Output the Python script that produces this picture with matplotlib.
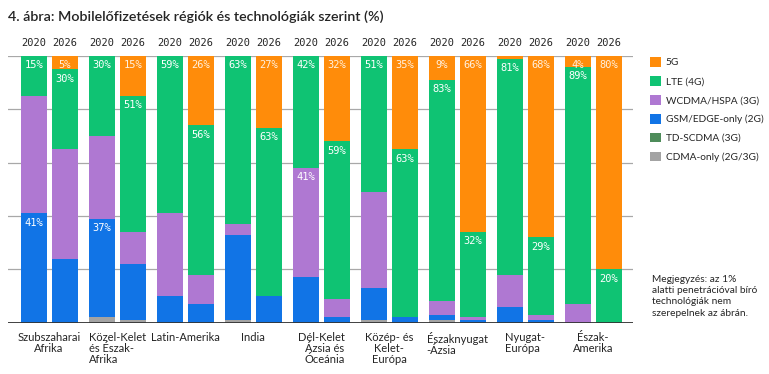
import numpy as np
import matplotlib
matplotlib.use("Agg")
import matplotlib.pyplot as plt
from matplotlib.patches import Patch

# ====== 資料 ======
REGIONS = ["Szubszaharai\nAfrika", "Közel-Kelet\nés Észak-\nAfrika", "Latin-Amerika", "India",
           "Dél-Kelet\nÁzsia és\nÓceánia", "Közép- és\nKelet-\nEurópa", "Északnyugat\n-Ázsia",
           "Nyugat-\nEurópa", "Észak-\nAmerika"]
REGION_ALIGN = ["center", "left", "center", "center", "right", "center", "left", "left", "center"]
YEARS = ["2020", "2026"]
TECHS = ["CDMA-only (2G/3G)", "TD-SCDMA (3G)", "GSM/EDGE-only (2G)", "WCDMA/HSPA (3G)", "LTE (4G)", "5G"]

# 每個區域 [2020, 2026]，依 TECHS 順序
cdma_2020  = [0, 2, 0, 1, 0, 1, 1, 0, 0]
td_2020    = [0, 0, 0, 0, 0, 0, 0, 0, 0]
gsm_2020   = [41, 37, 10, 32, 17, 12, 2, 6, 0]
wcdma_2020 = [44, 31, 31, 4, 41, 36, 5, 12, 7]
lte_2020   = [15, 30, 59, 63, 42, 51, 83, 81, 89]
g5_2020    = [0, 0, 0, 0, 0, 0, 9, 1, 4]

cdma_2026  = [0, 1, 0, 0, 0, 0, 0, 0, 0]
td_2026    = [0, 0, 0, 0, 0, 0, 0, 0, 0]
gsm_2026   = [24, 21, 7, 10, 2, 2, 1, 1, 0]
wcdma_2026 = [41, 12, 11, 0, 7, 0, 1, 2, 0]
lte_2026   = [30, 51, 56, 63, 59, 63, 32, 29, 20]
g5_2026    = [5, 15, 26, 27, 32, 35, 66, 68, 80]

# 顯示數值標籤的區段： (區域, 年份索引, 技術索引)
LABELED = [(0, 0, 4), (0, 0, 2), (0, 1, 5), (0, 1, 4),
           (1, 0, 4), (1, 0, 2), (1, 1, 5), (1, 1, 4),
           (2, 0, 4), (2, 1, 5), (2, 1, 4),
           (3, 0, 4), (3, 1, 5), (3, 1, 4),
           (4, 0, 4), (4, 0, 3), (4, 1, 5), (4, 1, 4),
           (5, 0, 4), (5, 1, 5), (5, 1, 4),
           (6, 0, 5), (6, 0, 4), (6, 1, 5), (6, 1, 4),
           (7, 0, 4), (7, 1, 5), (7, 1, 4),
           (8, 0, 5), (8, 0, 4), (8, 1, 5), (8, 1, 4)]

COLORS = ["#a3a3a3", "#4e8c5a", "#1174e6", "#af78d2", "#0fc373", "#ff8c0a"]
TEXT_COLOR = "#242424"

data = {
    0: [cdma_2020, td_2020, gsm_2020, wcdma_2020, lte_2020, g5_2020],
    1: [cdma_2026, td_2026, gsm_2026, wcdma_2026, lte_2026, g5_2026],
}

fig = plt.figure(figsize=(7.69, 3.74), dpi=100)
ax = fig.add_axes([8 / 769, 51.3 / 374, 625 / 769, 266.7 / 374])

x = np.arange(len(REGIONS))
offset = 0.228
width = 0.382

for yi in (0, 1):
    xpos = x + (offset if yi else -offset)
    bottom = np.zeros(len(REGIONS))
    for ti, vals in enumerate(data[yi]):
        vals = np.array(vals, dtype=float)
        ax.bar(xpos, vals, width, bottom=bottom, color=COLORS[ti], zorder=3, linewidth=0)
        bottom += vals
    for ri in range(len(REGIONS)):
        ax.text(xpos[ri], 1.03, YEARS[yi], transform=ax.get_xaxis_transform(),
                ha="center", va="bottom", fontsize=7.5, family="DejaVu Sans Mono", color=TEXT_COLOR)

# 數值標籤
for ri, yi, ti in LABELED:
    vals = data[yi]
    top = sum(vals[k][ri] for k in range(ti + 1))
    xpos = x[ri] + (offset if yi else -offset)
    tcol = "#fff1e0" if ti == 5 else "white"
    ax.annotate(f"{vals[ti][ri]}%", (xpos, top), xytext=(0, -6.8), textcoords="offset points",
                ha="center", va="center", fontsize=7.5, family="DejaVu Sans Mono", color=tcol, zorder=5)

ax.set_xlim((8 - 49.1) / 68, (633 - 49.1) / 68)
ax.set_ylim(0, 100)
ax.set_yticks([0, 20, 40, 60, 80, 100])
ax.yaxis.grid(True, color="#a8a8a8", linewidth=0.9, zorder=0)
ax.tick_params(left=False, bottom=False, labelleft=False, labelbottom=False)
for s in ax.spines.values():
    s.set_visible(False)
ax.axhline(0, color="#333333", linewidth=1.3, zorder=4)

# 區域名稱
for ri, name in enumerate(REGIONS):
    ax.text(x[ri], -0.035, name, transform=ax.get_xaxis_transform(), ha="center", va="top",
            multialignment=REGION_ALIGN[ri], fontsize=8, family="Lato", color=TEXT_COLOR,
            linespacing=1.0)

fig.text(8 / 769, 1 - 17 / 374, "4. ábra: Mobilelőfizetések régiók és technológiák szerint (%)",
         ha="left", va="center", fontsize=10.3, family="Lato", fontweight="semibold", color=TEXT_COLOR)

handles = [Patch(facecolor=COLORS[i], edgecolor="none") for i in range(5, -1, -1)]
labels = [TECHS[i] for i in range(5, -1, -1)]
leg = fig.legend(handles, labels, loc="upper left", bbox_to_anchor=(650 / 769, 1 - 57 / 374),
                 frameon=False, prop={"family": "Lato", "size": 7.3},
                 handlelength=1.1, handleheight=1.1, handletextpad=0.45, labelspacing=0.85,
                 borderpad=0, borderaxespad=0)
for t in leg.get_texts():
    t.set_color(TEXT_COLOR)

fig.text(652 / 769, 1 - 275 / 374,
         "Megjegyzés: az 1%\nalatti penetrációval bíró\ntechnológiák nem\nszerepelnek az ábrán.",
         ha="left", va="top", fontsize=7.3, family="Lato", color=TEXT_COLOR, linespacing=1.32)

fig.savefig("out.png", dpi=100)
